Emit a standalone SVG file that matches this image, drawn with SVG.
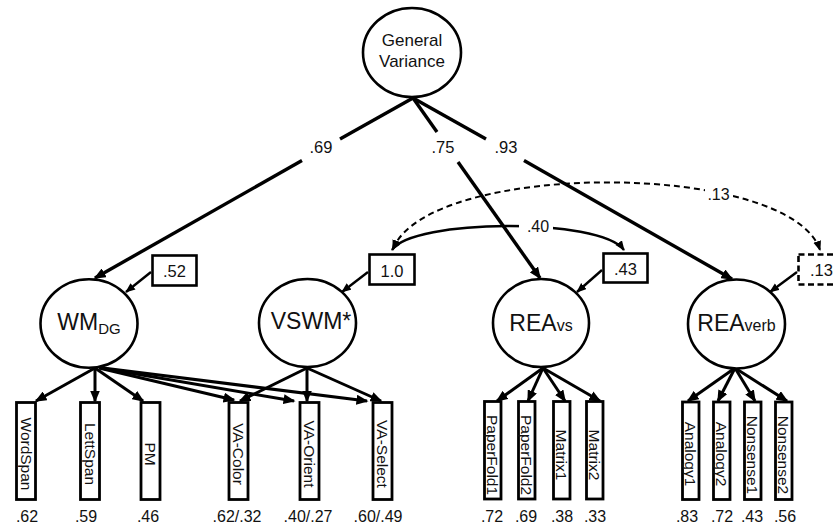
<svg xmlns="http://www.w3.org/2000/svg" width="835" height="529" viewBox="0 0 835 529">
  <style>
    .lat { fill: #fff; stroke: #000; stroke-width: 2.6; }
    .obs { fill: #fff; stroke: #000; stroke-width: 2.8; }
    .var { fill: #fff; stroke: #000; stroke-width: 2.6; }
    .dash { stroke-dasharray: 6 3.5; }
    .path { fill: none; stroke: #000; stroke-width: 3.4; }
    .load { fill: none; stroke: #000; stroke-width: 3; }
    .res { fill: none; stroke: #000; stroke-width: 2.4; }
    .cov { fill: none; stroke: #000; stroke-width: 2.4; }
    .covd { fill: none; stroke: #000; stroke-width: 2; stroke-dasharray: 6 4; }
    text { font-family: "Liberation Sans", Arial, sans-serif; fill: #111; }
    .latTxt { font-size: 23px; text-anchor: middle; }
    .gvTxt { font-size: 17px; text-anchor: middle; }
    .obsTxt { font-size: 15.5px; text-anchor: middle; }
    .num { font-size: 16px; text-anchor: middle; }
    .coef { font-size: 16.5px; text-anchor: middle; }
    .bg { fill: #fff; stroke: none; }
  </style>
  <defs>
    <marker id="arr" markerUnits="userSpaceOnUse" markerWidth="13" markerHeight="10" refX="10.5" refY="5" orient="auto-start-reverse">
      <path d="M0,0 L12,5 L0,10 z" fill="#000"/>
    </marker>
    <marker id="arrS" markerUnits="userSpaceOnUse" markerWidth="11" markerHeight="9" refX="9" refY="4" orient="auto-start-reverse">
      <path d="M0,0 L10,4 L0,8 z" fill="#000"/>
    </marker>
  </defs>

  <!-- connectors -->
  <g id="connectors">
    <!-- general factor paths, broken round their coefficients -->
    <line class="path" x1="413" y1="98" x2="340" y2="139"/>
    <line class="path" x1="302" y1="160.5" x2="95" y2="278" marker-end="url(#arr)"/>
    <line class="path" x1="413" y1="98" x2="437" y2="132"/>
    <line class="path" x1="458" y1="162" x2="540" y2="278" marker-end="url(#arr)"/>
    <line class="path" x1="413" y1="98" x2="486" y2="139"/>
    <line class="path" x1="524" y1="160.6" x2="732" y2="279" marker-end="url(#arr)"/>

    <!-- residual covariances -->
    <path class="covd" d="M393,249 C428,160 790,160 820,250" marker-start="url(#arrS)" marker-end="url(#arrS)"/>
    <rect class="bg" x="705" y="184" width="28" height="20"/>
    <text class="num" x="718.5" y="200">.13</text>
    <path class="cov" d="M392,250 C412,219 600,217 624,250" marker-start="url(#arrS)" marker-end="url(#arrS)"/>
    <rect class="bg" x="519" y="216" width="34" height="20"/>
    <text class="num" x="538" y="232">.40</text>

    <!-- residual variances -->
    <line class="res" x1="151" y1="272" x2="126" y2="292" marker-end="url(#arrS)"/>
    <line class="res" x1="368" y1="272" x2="342" y2="292" marker-end="url(#arrS)"/>
    <line class="res" x1="602" y1="270" x2="577" y2="292" marker-end="url(#arrS)"/>
    <line class="res" x1="797" y1="272" x2="770" y2="292" marker-end="url(#arrS)"/>

    <!-- WM_DG indicators -->
    <line class="load" x1="95" y1="368" x2="36" y2="401" marker-end="url(#arr)"/>
    <line class="load" x1="95" y1="368" x2="95" y2="401" marker-end="url(#arr)"/>
    <line class="load" x1="95" y1="368" x2="143" y2="401" marker-end="url(#arr)"/>
    <line class="load" x1="99" y1="368" x2="234" y2="400" marker-end="url(#arr)"/>
    <line class="load" x1="101" y1="368" x2="294" y2="401" marker-end="url(#arr)"/>
    <line class="load" x1="103" y1="368" x2="367" y2="401" marker-end="url(#arr)"/>

    <!-- VSWM indicators -->
    <line class="load" x1="307" y1="368" x2="240" y2="401" marker-end="url(#arr)"/>
    <line class="load" x1="307" y1="368" x2="307" y2="401" marker-end="url(#arr)"/>
    <line class="load" x1="307" y1="368" x2="381" y2="401" marker-end="url(#arr)"/>

    <!-- REA_vs indicators -->
    <line class="load" x1="543" y1="368" x2="497" y2="401" marker-end="url(#arr)"/>
    <line class="load" x1="543" y1="368" x2="528" y2="401" marker-end="url(#arr)"/>
    <line class="load" x1="543" y1="368" x2="565" y2="401" marker-end="url(#arr)"/>
    <line class="load" x1="543" y1="368" x2="600" y2="401" marker-end="url(#arr)"/>

    <!-- REA_verb indicators -->
    <line class="load" x1="735" y1="368" x2="688" y2="401" marker-end="url(#arr)"/>
    <line class="load" x1="735" y1="368" x2="718" y2="401" marker-end="url(#arr)"/>
    <line class="load" x1="735" y1="368" x2="755" y2="401" marker-end="url(#arr)"/>
    <line class="load" x1="735" y1="368" x2="787" y2="401" marker-end="url(#arr)"/>

    <!-- path coefficients -->
    <text class="coef" x="321" y="153">.69</text>
    <text class="coef" x="443" y="153">.75</text>
    <text class="coef" x="506" y="153">.93</text>
  </g>

  <!-- latent factors -->
  <g id="gv">
    <ellipse class="lat" cx="412" cy="52.5" rx="49" ry="44.5"/>
    <text class="gvTxt" x="412" y="46">General</text>
    <text class="gvTxt" x="412" y="67">Variance</text>
  </g>
  <g id="wm">
    <ellipse class="lat" cx="89" cy="323.5" rx="48.5" ry="44.3"/>
    <text class="latTxt" x="89" y="330">WM<tspan font-size="15" dy="4">DG</tspan></text>
  </g>
  <g id="vswm">
    <ellipse class="lat" cx="307.5" cy="323" rx="48.5" ry="44"/>
    <text class="latTxt" x="311" y="329" font-size="22.5">VSWM*</text>
  </g>
  <g id="rea-vs">
    <ellipse class="lat" cx="541" cy="323" rx="48" ry="44"/>
    <text class="latTxt" x="541" y="331">REA<tspan font-size="16">vs</tspan></text>
  </g>
  <g id="rea-verb">
    <ellipse class="lat" cx="736.5" cy="324" rx="48.5" ry="44.5"/>
    <text class="latTxt" x="736.5" y="331">REA<tspan font-size="16">verb</tspan></text>
  </g>

  <!-- residual variance boxes -->
  <g id="v-wm">
    <rect class="var" x="152.5" y="255.5" width="44" height="30"/>
    <text class="coef" x="174.5" y="277">.52</text>
  </g>
  <g id="v-vswm">
    <rect class="var" x="369.5" y="254.5" width="45" height="30"/>
    <text class="coef" x="392" y="277">1.0</text>
  </g>
  <g id="v-reavs">
    <rect class="var" x="603.5" y="253.5" width="44" height="29"/>
    <text class="coef" x="625.5" y="275">.43</text>
  </g>
  <g id="v-reaverb">
    <rect class="var dash" x="798.5" y="254.5" width="45" height="30"/>
    <text class="coef" x="821.5" y="276">.13</text>
  </g>

  <!-- observed measures (labels turned to read downwards) -->
  <g id="wordspan">
    <rect class="obs" x="16.5" y="402.5" width="19" height="97"/>
    <text class="obsTxt" transform="translate(26,454) rotate(90)" y="5.5">WordSpan</text>
    <text class="num" x="27" y="522">.62</text>
  </g>
  <g id="lettspan">
    <rect class="obs" x="80.5" y="402.5" width="19" height="97"/>
    <text class="obsTxt" transform="translate(90,454) rotate(90)" y="5.5">LettSpan</text>
    <text class="num" x="86" y="522">.59</text>
  </g>
  <g id="pm">
    <rect class="obs" x="141" y="402.5" width="19" height="97"/>
    <text class="obsTxt" transform="translate(150.5,454) rotate(90)" y="5.5">PM</text>
    <text class="num" x="148" y="522">.46</text>
  </g>
  <g id="va-color">
    <rect class="obs" x="229" y="402.5" width="19" height="97"/>
    <text class="obsTxt" transform="translate(238.5,454) rotate(90)" y="5.5">VA-Color</text>
    <text class="num" x="237" y="522">.62/.32</text>
  </g>
  <g id="va-orient">
    <rect class="obs" x="300" y="402.5" width="19" height="97"/>
    <text class="obsTxt" transform="translate(309.5,454) rotate(90)" y="5.5">VA-Orient</text>
    <text class="num" x="308" y="522">.40/.27</text>
  </g>
  <g id="va-select">
    <rect class="obs" x="373" y="402.5" width="19" height="97"/>
    <text class="obsTxt" transform="translate(382.5,454) rotate(90)" y="5.5">VA-Select</text>
    <text class="num" x="378" y="522">.60/.49</text>
  </g>
  <g id="paperfold1">
    <rect class="obs" x="484.5" y="401.5" width="16.5" height="97.5"/>
    <text class="obsTxt" transform="translate(492.75,455) rotate(90)" y="5.5">PaperFold1</text>
    <text class="num" x="492" y="522">.72</text>
  </g>
  <g id="paperfold2">
    <rect class="obs" x="518.5" y="401.5" width="16.5" height="97.5"/>
    <text class="obsTxt" transform="translate(526.75,455) rotate(90)" y="5.5">PaperFold2</text>
    <text class="num" x="526" y="522">.69</text>
  </g>
  <g id="matrix1">
    <rect class="obs" x="553.5" y="401.5" width="16.5" height="97.5"/>
    <text class="obsTxt" transform="translate(561.75,455) rotate(90)" y="5.5">Matrix1</text>
    <text class="num" x="562" y="522">.38</text>
  </g>
  <g id="matrix2">
    <rect class="obs" x="586.5" y="401.5" width="16.5" height="97.5"/>
    <text class="obsTxt" transform="translate(594.75,455) rotate(90)" y="5.5">Matrix2</text>
    <text class="num" x="595" y="522">.33</text>
  </g>
  <g id="analogy1">
    <rect class="obs" x="682.5" y="402" width="16.5" height="97.5"/>
    <text class="obsTxt" transform="translate(690.75,454) rotate(90)" y="5.5">Analogy1</text>
    <text class="num" x="687" y="522">.83</text>
  </g>
  <g id="analogy2">
    <rect class="obs" x="713.5" y="402" width="16.5" height="97.5"/>
    <text class="obsTxt" transform="translate(721.75,454) rotate(90)" y="5.5">Analogy2</text>
    <text class="num" x="722" y="522">.72</text>
  </g>
  <g id="nonsense1">
    <rect class="obs" x="744.5" y="402" width="16.5" height="97.5"/>
    <text class="obsTxt" transform="translate(752.75,455) rotate(90)" y="5.5">Nonsense1</text>
    <text class="num" x="752" y="522">.43</text>
  </g>
  <g id="nonsense2">
    <rect class="obs" x="775.5" y="402" width="16.5" height="97.5"/>
    <text class="obsTxt" transform="translate(783.75,455) rotate(90)" y="5.5">Nonsense2</text>
    <text class="num" x="785" y="522">.56</text>
  </g>
</svg>
